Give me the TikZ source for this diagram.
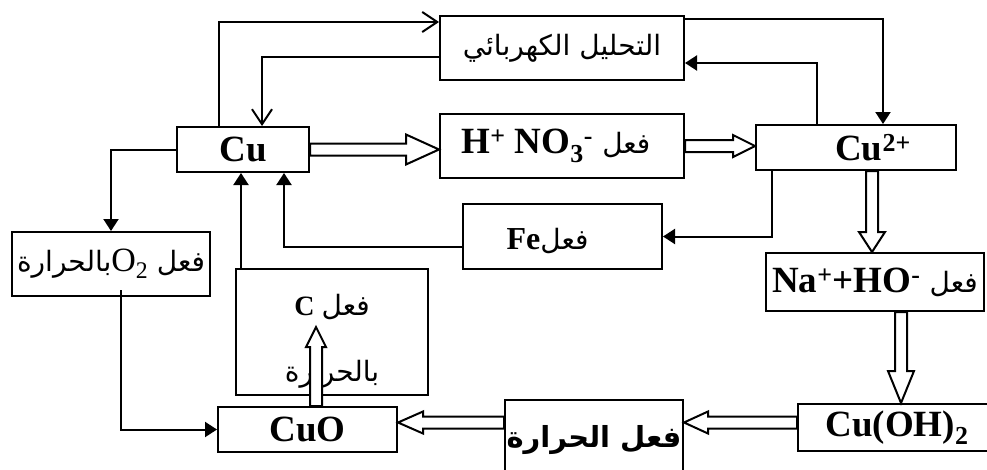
\documentclass[tikz,border=0pt]{standalone}
\usepackage{fontspec}
\setmainfont{Liberation Serif}
\newfontfamily\arabicfont[Script=Arabic]{DejaVu Sans}
\TeXXeTstate=1
\usetikzlibrary{arrows.meta,calc}
\newcommand{\artxt}[1]{{\arabicfont\mdseries\fontsize{28}{32}\selectfont\beginR #1\endR}}
\newcommand{\fatarrow}[4]{%
  \coordinate (fa-h) at ($(#2)!#3!(#1)$);
  \draw[thin,fill=white] ($(#1)!6pt!90:(#2)$) -- ($(fa-h)!6pt!90:(#2)$)
    -- ($(fa-h)!#4!90:(#2)$) -- (#2) -- ($(fa-h)!#4!-90:(#2)$)
    -- ($(fa-h)!6pt!-90:(#2)$) -- ($(#1)!6pt!-90:(#2)$) -- cycle;}

\begin{document}
\begin{tikzpicture}[x=1pt,y=-1pt,
            box/.style={draw,line width=2pt,inner sep=0pt,font=\fontsize{37}{40}\selectfont\bfseries},
            thin/.style={line width=2pt},
            filled/.style={thin,-{Triangle[length=12pt,width=15pt]}},
            barb/.style={thin,-{Straight Barb[length=15pt,width=20pt,line width=2pt]}}]
            \useasboundingbox (0,0) rectangle (987,469);
            \node[box,minimum width=244pt,minimum height=64pt] (elec) at (562,48) {\artxt{التحليل الكهربائي}};
            \node[box,minimum width=244pt,minimum height=64pt] (hno) at (562,146) {H\textsuperscript{+} NO\textsubscript{3}\textsuperscript{-}~\artxt{فعل}\hspace*{12pt}};
            \node[box,minimum width=132pt,minimum height=45pt] (cu) at (243,149.5) {Cu};
            \node[box,minimum width=200pt,minimum height=45pt] (cuii) at (856,147.5) {\hspace*{34pt}Cu\textsuperscript{2+}};
            \node[box,minimum width=199pt,minimum height=65pt,font=\fontsize{32}{36}\selectfont\bfseries] (fe) at (562.5,236.5) {\rule{0pt}{30pt}Fe\artxt{فعل}\hspace*{30pt}};
            \node[box,minimum width=218pt,minimum height=58pt] (naoh) at (875,282) {Na\textsuperscript{+}+HO\textsuperscript{-}~\artxt{فعل}};
            \node[box,minimum width=198pt,minimum height=47pt] (cuoh) at (897,427.5) {Cu(OH)\textsubscript{2}};
            \node[box,minimum width=178pt,minimum height=80pt] (heat) at (594,440) {{\arabicfont\fontsize{29}{32}\selectfont\beginR فعل الحرارة\endR}};
            \node[box,minimum width=179pt,minimum height=45pt] (cuo) at (307.5,429.5) {CuO};
            \node[box,minimum width=192pt,minimum height=126pt,align=center,font=\fontsize{28}{32}\selectfont\bfseries] (cbox) at (332,332) {\rule{0pt}{40pt}C~\artxt{فعل}\\[34pt]\artxt{بالحرارة}};
            \node[box,minimum width=198pt,minimum height=64pt,font=\fontsize{34}{38}\selectfont\mdseries] (otwo) at (111,264) {\artxt{بالحرارة}O\textsubscript{2}~\artxt{فعل}};
            \draw[barb] ($(cu.north west)+(43,0)$) |- ($(elec.north west)+(0,7)$);
            \draw[barb] ($(elec.south west)+(0,-24)$) -| ($(cu.north west)+(86,0)$);
            \draw[filled] ($(elec.north east)+(0,4)$) -| ($(cuii.north west)+(128,0)$);
            \draw[filled] ($(cuii.north west)+(62,0)$) |- ($(elec.south east)+(0,-18)$);
            \draw[filled] ($(cuii.south west)+(17,0)$) |- (fe.east);
            \draw[filled] ($(fe.west)+(0,10)$) -| ($(cu.south west)+(108,0)$);
            \draw[filled] ($(cbox.north west)+(6,0)$) -- ($(cu.south west)+(65,0)$);
            \draw[filled] (cu.west) -| (otwo.north);
            \draw[filled] ($(otwo.south)+(10,-7)$) |- (cuo.west);
            \coordinate (p1) at (cu.east);
            \coordinate (p2) at (cu.east -| hno.west);
            \coordinate (p3) at (hno.east);
            \coordinate (p4) at (hno.east -| cuii.west);
            \coordinate (p5) at ($(cuii.south west)+(117,0)$);
            \coordinate (p6) at (p5 |- naoh.north);
            \coordinate (p7) at ($(naoh.south west)+(136,0)$);
            \coordinate (p8) at (p7 |- cuoh.north);
            \coordinate (p9) at ($(cuoh.west)+(0,-5)$);
            \coordinate (p10) at (p9 -| heat.east);
            \coordinate (p11) at (p9 -| heat.west);
            \coordinate (p12) at (p9 -| cuo.east);
            \coordinate (p13) at ($(cuo.north west)+(99,0)$);
            \coordinate (p14) at ($(cbox.north west)+(81,59)$);
            \fatarrow{p1}{p2}{33pt}{15pt}
            \fatarrow{p3}{p4}{22pt}{11pt}
            \fatarrow{p5}{p6}{20pt}{13pt}
            \fatarrow{p7}{p8}{32pt}{13pt}
            \fatarrow{p9}{p10}{24pt}{11pt}
            \fatarrow{p11}{p12}{25pt}{11pt}
            \fatarrow{p13}{p14}{20pt}{10pt}
        \end{tikzpicture}
\end{document}
